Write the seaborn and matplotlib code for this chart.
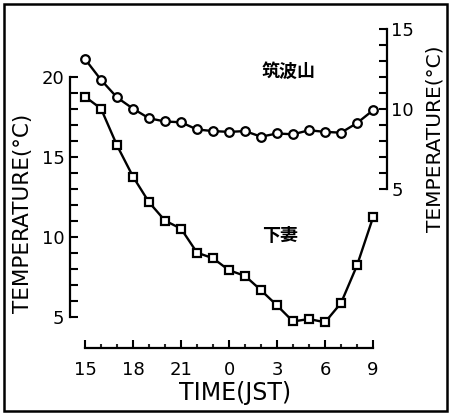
import numpy as np
import pandas as pd
import matplotlib
matplotlib.use("Agg")
import matplotlib.pyplot as plt
import seaborn as sns
from matplotlib.patches import Rectangle

# Hourly observations, 15 JST to 9 JST next morning
hours = [15, 16, 17, 18, 19, 20, 21, 22, 23, 0, 1, 2, 3, 4, 5, 6, 7, 8, 9]
tsukuba_temp = [13.1, 11.8, 10.7, 10.0, 9.4, 9.2, 9.15, 8.7, 8.6, 8.55,
                8.6, 8.25, 8.45, 8.4, 8.65, 8.55, 8.5, 9.1, 9.9]
shimotsuma_temp = [18.75, 18.0, 15.7, 13.75, 12.15, 11.0, 10.5, 9.0, 8.65, 7.9,
                   7.55, 6.65, 5.7, 4.7, 4.85, 4.65, 5.85, 8.2, 11.2]
tick_hours = [15, 18, 21, 0, 3, 6, 9]
left_ticks = [5, 10, 15, 20]
right_ticks = [5, 10, 15]

df = pd.DataFrame({
    "step": np.arange(len(hours)),
    "hour": hours,
    "tsukuba": tsukuba_temp,
    "shimotsuma": shimotsuma_temp,
})

sns.set_theme(style="ticks")
plt.rcParams["font.family"] = ["DejaVu Sans", "Noto Sans CJK JP"]

W, H = 451, 415
fig = plt.figure(figsize=(W / 100, H / 100), dpi=100)
ax = fig.add_axes([70 / W, (H - 348) / H, (387 - 70) / W, (348 - 28.7) / H])
ax2 = ax.twinx()

line_kw = dict(color="black", lw=1.7, markerfacecolor="white",
               markeredgecolor="black", markeredgewidth=1.6)
sns.lineplot(data=df, x="step", y="shimotsuma", ax=ax, marker="s",
             markersize=5.8, **line_kw)
sns.lineplot(data=df, x="step", y="tsukuba", ax=ax2, marker="o",
             markersize=6.2, **line_kw)

ax.set_xlim(-0.94, 18.875)
ax.set_ylim(3.04, 23.0)
ax2.set_ylim(-4.96, 15.0)

# Spines: detached bottom axis, left axis 5-20, right axis 5-15
for s in ["top", "right"]:
    ax.spines[s].set_visible(False)
for s in ["top", "left", "bottom"]:
    ax2.spines[s].set_visible(False)
ax.spines["left"].set_bounds(5, 20)
ax.spines["bottom"].set_bounds(0, len(hours) - 1)
ax2.spines["right"].set_bounds(5, 15)
for a in (ax, ax2):
    for s in a.spines.values():
        s.set_linewidth(1.6)
        s.set_color("black")

# Ticks
tick_pos = [hours.index(h) for h in tick_hours]
ax.set_xticks(tick_pos)
ax.set_xticklabels([str(h) for h in tick_hours])
ax.set_xticks(df["step"], minor=True)
ax.set_yticks(left_ticks)
ax.set_yticks(np.arange(5, 21), minor=True)
ax2.set_yticks(right_ticks)
ax2.set_yticks(np.arange(5, 16), minor=True)

ax.tick_params(axis="x", which="major", direction="in", length=5.5, width=1.5,
               pad=9, labelsize=13, colors="black")
ax.tick_params(axis="x", which="minor", direction="in", length=3, width=1.5)
ax.tick_params(axis="y", which="both", direction="in", length=6, width=1.5,
               pad=4, labelsize=13, colors="black")
ax2.tick_params(axis="y", which="both", direction="in", length=5.5, width=1.5,
                pad=3, labelsize=13, colors="black")

ax.set_xlabel("")
ax.set_ylabel("")
ax2.set_ylabel("")

# Axis titles
fig.text(23 / W, 1 - 213.7 / H, "TEMPERATURE(°C)", rotation=90,
         ha="center", va="center", fontsize=15.5, color="black")
fig.text(435 / W, 1 - 139 / H, "TEMPERATURE(°C)", rotation=90,
         ha="center", va="center", fontsize=14.5, color="black")
fig.text(235 / W, 1 - 393 / H, "TIME(JST)", ha="center", va="center",
         fontsize=17, color="black")

# Station names
ax.text(12.7, 20.3, "筑波山", ha="center", va="center", fontsize=13,
        family=["Noto Sans CJK JP"], fontweight="bold", color="black")
ax.text(12.2, 10.1, "下妻", ha="center", va="center", fontsize=13,
        family=["Noto Sans CJK JP"], fontweight="bold", color="black")

# Frame around the whole figure
fig.add_artist(Rectangle((4 / W, 4 / H), 443 / W, 407 / H,
                         transform=fig.transFigure, fill=False,
                         lw=1.8, ec="black"))

fig.savefig("out.png", dpi=100, facecolor="white")
